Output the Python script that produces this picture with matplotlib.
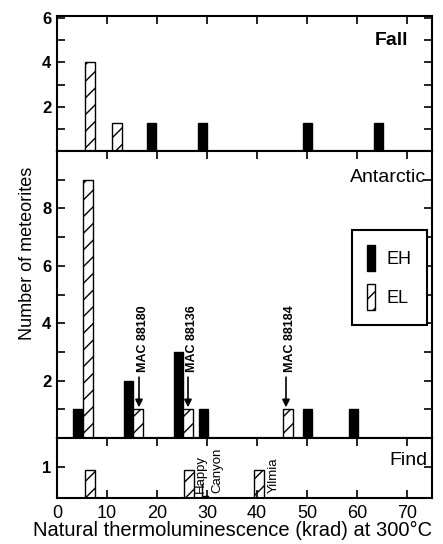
import matplotlib
matplotlib.use("Agg")
import matplotlib.pyplot as plt
from matplotlib.patches import Patch
from matplotlib.ticker import FixedLocator

plt.rcParams['font.family'] = ['Liberation Sans', 'DejaVu Sans']
plt.rcParams['hatch.linewidth'] = 1.0

# ---- data ----
fall_eh_x = [18.9, 29.1, 50.1, 64.3]
fall_eh_n = [1.25, 1.25, 1.25, 1.25]
fall_el_x = [6.5, 12.0]
fall_el_n = [4.0, 1.25]

ant_eh_x = [4.1, 14.3, 24.3, 29.3, 50.1, 59.3]
ant_eh_n = [1, 2, 3, 1, 1, 1]
ant_el_x = [6.2, 16.1, 26.2, 46.1]
ant_el_n = [9, 1, 1, 1]

find_el_x = [6.6, 26.3, 40.3]
find_el_n = [0.9, 0.9, 0.9]

mac_x = [16.4, 26.2, 45.8]
mac_names = ["MAC 88180", "MAC 88136", "MAC 88184"]

find_names = ["Happy", "Canyon", "Yilmia"]
find_name_x = [28.8, 32.0, 43.4]

x_ticks = [0, 10, 20, 30, 40, 50, 60, 70]
panel_names = ["Fall", "Antarctic", "Find"]

# ---- figure ----
W, H = 443, 544
fig = plt.figure(figsize=(W / 100, H / 100), dpi=100)

def axes_px(left, top, right, bottom):
    return fig.add_axes([left / W, 1 - bottom / H, (right - left) / W, (bottom - top) / H])

ax_fall = axes_px(57, 16, 432, 151)
ax_ant = axes_px(57, 151, 432, 438)
ax_find = axes_px(57, 438, 432, 498)

EHW, ELW = 1.8, 2.0
eh_kw = dict(color='black', edgecolor='black', linewidth=1.0)
el_kw = dict(facecolor='white', edgecolor='black', hatch='//', linewidth=1.0)

ax_fall.bar(fall_eh_x, fall_eh_n, width=EHW, **eh_kw)
ax_fall.bar(fall_el_x, fall_el_n, width=ELW, **el_kw)
ax_ant.bar(ant_eh_x, ant_eh_n, width=EHW, **eh_kw)
ax_ant.bar(ant_el_x, ant_el_n, width=ELW, **el_kw)
ax_find.bar(find_el_x, find_el_n, width=ELW, **el_kw)

ax_fall.set_ylim(0, 6.1)
ax_ant.set_ylim(0, 10)
ax_find.set_ylim(0, 1.95)

ax_fall.set_yticks([2, 4, 6])
ax_fall.set_yticklabels(['2', '4', '6'])
ax_fall.yaxis.set_minor_locator(FixedLocator([1, 3, 5]))
ax_ant.set_yticks([2, 4, 6, 8])
ax_ant.set_yticklabels(['2', '4', '6', '8'])
ax_ant.yaxis.set_minor_locator(FixedLocator([1, 3, 5, 7, 9]))
ax_find.set_yticks([1])
ax_find.set_yticklabels(['1'])

for ax in (ax_fall, ax_ant, ax_find):
    ax.set_xlim(0, 75)
    ax.set_xticks(x_ticks)
    for s in ax.spines.values():
        s.set_linewidth(1.5)
    ax.tick_params(axis='x', direction='in', top=True, bottom=(ax is ax_find),
                   length=6, width=1.2, labelsize=13, pad=5,
                   labelbottom=(ax is ax_find))
    ax.tick_params(axis='y', which='major', direction='in', left=True, right=True,
                   length=6, width=1.2, labelsize=12, pad=4)
    ax.tick_params(axis='y', which='minor', direction='in', left=True, right=True,
                   length=6, width=1.2)
    for lab in ax.get_yticklabels():
        lab.set_fontweight('bold')

# panel names
ax_fall.text(0.936, 0.822, panel_names[0], transform=ax_fall.transAxes,
             ha='right', va='center', fontsize=14, fontweight='bold')
ax_ant.text(0.984, 0.906, panel_names[1], transform=ax_ant.transAxes,
            ha='right', va='center', fontsize=14)
ax_find.text(0.987, 0.63, panel_names[2], transform=ax_find.transAxes,
             ha='right', va='center', fontsize=14)

# MAC annotations
for x, name in zip(mac_x, mac_names):
    ax_ant.annotate('', xy=(x, 1.07), xytext=(x, 2.12),
                    arrowprops=dict(arrowstyle='-|>', lw=1.2, color='black',
                                    mutation_scale=11, shrinkA=0, shrinkB=0))
    ax_ant.text(x + 0.75, 2.3, name, rotation=90, ha='center', va='bottom',
                fontsize=9, fontweight='bold')

# Find labels
for x, name in zip(find_name_x, find_names):
    ax_find.text(x, 0.15, name, rotation=90, ha='center', va='bottom', fontsize=9.5)
ax_find.plot([29.0, 29.0, 30.1], [0.45, 0.07, 0.07], color='black', lw=1.0)

# legend
handles = [Patch(facecolor='black', edgecolor='black', label='EH'),
           Patch(facecolor='white', edgecolor='black', hatch='//', label='EL')]
leg = ax_ant.legend(handles=handles, loc='upper left',
                    bbox_to_anchor=(352 / W, 1 - 230 / H), bbox_transform=fig.transFigure,
                    borderaxespad=0,
                    handlelength=0.45, handleheight=1.8, handletextpad=0.6,
                    labelspacing=0.75, borderpad=0.85, fontsize=13, fancybox=False,
                    framealpha=1, edgecolor='black')
leg.get_frame().set_linewidth(1.5)

fig.text(28 / W, 1 - 253 / H, "Number of meteorites", rotation=90,
         ha='center', va='center', fontsize=13)
fig.text(233 / W, 1 - 530 / H, "Natural thermoluminescence (krad) at 300\u00b0C",
         ha='center', va='center', fontsize=14.5)

fig.savefig("out.png", dpi=100)
